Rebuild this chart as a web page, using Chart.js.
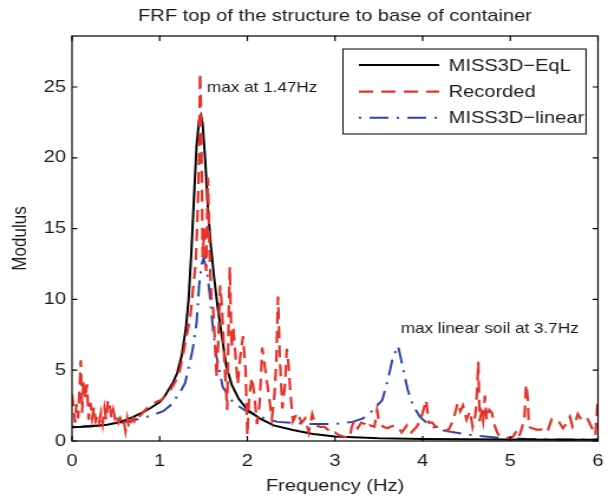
<!DOCTYPE html>
<html>
<head>
<meta charset="utf-8">
<title>FRF top of the structure to base of container</title>
<script src="https://cdn.jsdelivr.net/npm/chart.js@4.4.0/dist/chart.umd.min.js"></script>
<style>
  body { margin: 0; background: #fff; }
  #frf_chart { width: 608px; height: 502px; }
</style>
</head>
<body>
<canvas id="frf_chart" width="515" height="502" style="width:608px;height:502px"></canvas>
<script>
// MISS3D-EqL (black)
var eqlFreq = [0, 0.2, 0.4, 0.5, 0.6, 0.7, 0.8, 0.9, 1.0, 1.05, 1.1, 1.15, 1.2, 1.25, 1.3, 1.33, 1.36, 1.39,
               1.42, 1.45, 1.47, 1.49, 1.52, 1.55, 1.58, 1.62, 1.66, 1.70, 1.76, 1.82, 1.90, 2.00, 2.14, 2.30,
               2.52, 2.75, 3.0, 3.5, 4.0, 5.0, 6.0];
var eqlMod  = [0.97, 1.02, 1.15, 1.27, 1.45, 1.7, 2.0, 2.35, 2.75, 3.1, 3.6, 4.1, 4.8, 6.0, 8.0, 10.0, 13.2, 17.0,
               20.8, 22.7, 23.0, 22.4, 19.8, 16.5, 14.0, 11.6, 9.5, 7.8, 5.3, 4.0, 3.0, 2.2, 1.6, 1.1,
               0.78, 0.5, 0.32, 0.2, 0.15, 0.1, 0.08];

// Recorded (red dashed)
var recFreq = [0.00, 0.02, 0.035, 0.05, 0.07, 0.10, 0.115, 0.13, 0.15, 0.17, 0.19, 0.21, 0.23, 0.25, 0.27, 0.29,
               0.31, 0.33, 0.35, 0.37, 0.39, 0.41, 0.43, 0.45, 0.47, 0.49, 0.51, 0.53, 0.55, 0.57, 0.59, 0.61,
               0.63, 0.65, 0.67, 0.69, 0.71, 0.73, 0.75, 0.78, 0.82, 0.87, 0.92, 0.97, 1.02, 1.08, 1.13, 1.18,
               1.23, 1.27, 1.31, 1.35, 1.38, 1.41, 1.43, 1.45, 1.46, 1.47, 1.48, 1.49, 1.51, 1.53, 1.55, 1.57,
               1.59, 1.61, 1.63, 1.65, 1.67, 1.69, 1.71, 1.74, 1.77, 1.79, 1.80, 1.82, 1.84, 1.86, 1.89, 1.92,
               1.95, 1.98, 2.00, 2.02, 2.05, 2.08, 2.11, 2.14, 2.17, 2.21, 2.25, 2.28, 2.31, 2.33, 2.35, 2.37,
               2.40, 2.43, 2.45, 2.47, 2.49, 2.52, 2.57, 2.62, 2.66, 2.70, 2.74, 2.78, 2.83, 2.88, 2.92, 2.96,
               3.00, 3.05, 3.10, 3.17, 3.19, 3.22, 3.26, 3.30, 3.34, 3.37, 3.40, 3.45, 3.48, 3.50, 3.55, 3.60,
               3.63, 3.68, 3.72, 3.76, 3.82, 3.87, 3.93, 3.97, 4.00, 4.04, 4.07, 4.11, 4.15, 4.20, 4.25, 4.29,
               4.35, 4.40, 4.43, 4.46, 4.50, 4.54, 4.57, 4.60, 4.62, 4.635, 4.65, 4.67, 4.69, 4.71, 4.73, 4.76,
               4.79, 4.81, 4.85, 4.88, 4.95, 5.03, 5.07, 5.10, 5.16, 5.18, 5.20, 5.21, 5.25, 5.30, 5.36, 5.42,
               5.47, 5.52, 5.56, 5.60, 5.64, 5.68, 5.71, 5.74, 5.77, 5.80, 5.84, 5.87, 5.91, 5.97, 5.995];
var recMod  = [3.3, 2.2, 1.3, 2.6, 1.6, 5.7, 2.0, 4.3, 3.0, 4.0, 1.5, 2.7, 1.6, 2.4, 1.4, 1.8,
               1.3, 2.0, 1.2, 2.3, 1.5, 2.9, 2.5, 1.6, 2.2, 1.6, 1.9, 1.3, 1.6, 1.2, 1.4, 0.7,
               1.6, 0.9, 1.3, 1.6, 1.4, 1.7, 1.5, 1.8, 2.1, 2.4, 2.6, 2.8, 2.9, 3.3, 3.7, 4.2,
               5.0, 6.2, 7.5, 8.8, 10.7, 12.5, 15.5, 20.0, 26.0, 23.8, 19.0, 13.0, 15.0, 12.0, 18.6, 13.0,
               10.0, 9.3, 7.0, 4.5, 7.3, 11.0, 9.5, 5.5, 2.2, 9.8, 12.3, 6.6, 8.0, 6.4, 4.0, 6.0,
               7.4, 5.0, 0.4, 3.0, 4.5, 3.3, 1.2, 2.6, 6.6, 4.8, 3.0, 1.6, 3.3, 5.6, 10.2, 5.9,
               2.3, 4.0, 6.5, 5.4, 3.5, 1.4, 2.0, 1.3, 1.6, 0.6, 1.9, 1.1, 1.0, 1.0, 0.8, 0.5,
               0.6, 0.4, 0.3, 0.2, 1.0, 1.4, 0.9, 1.3, 1.2, 0.9, 1.1, 1.0, 2.2, 1.4, 1.0, 0.9,
               1.0, 1.1, 1.0, 0.6, 1.1, 0.6, 1.0, 1.4, 2.0, 2.9, 1.3, 1.3, 1.0, 1.0, 0.9, 0.7,
               1.5, 2.7, 2.1, 2.5, 1.5, 2.1, 1.0, 1.8, 3.5, 5.6, 1.4, 2.0, 1.4, 3.2, 1.5, 2.2,
               2.0, 1.3, 0.6, 0.3, 0.2, 0.3, 0.7, 0.3, 1.5, 4.0, 3.0, 1.0, 0.9, 0.8, 0.8, 0.6,
               1.5, 1.2, 1.3, 0.9, 1.2, 1.7, 1.0, 1.3, 1.9, 1.6, 1.5, 1.7, 1.2, 0.4, 2.7];

// MISS3D-linear (blue dash-dot)
var linFreq = [0, 0.3, 0.62, 0.8, 0.95, 1.04, 1.12, 1.23, 1.29, 1.35, 1.38, 1.42, 1.45, 1.48, 1.50, 1.54,
               1.57, 1.61, 1.65, 1.72, 1.84, 1.99, 2.15, 2.34, 2.71, 3.0, 3.06, 3.2, 3.32, 3.44, 3.54, 3.61,
               3.66, 3.72, 3.78, 3.83, 3.89, 3.97, 4.08, 4.2, 4.46, 4.65, 4.92, 5.2, 5.55, 6.0];
var linMod  = [1.0, 1.1, 1.35, 1.6, 1.9, 2.1, 2.5, 3.4, 4.1, 5.7, 6.6, 8.3, 11.0, 12.5, 12.9, 12.0,
               10.4, 7.8, 5.9, 3.8, 2.7, 2.1, 1.7, 1.35, 1.2, 1.2, 1.25, 1.35, 1.6, 2.2, 2.9, 4.5,
               5.9, 6.7, 5.0, 3.6, 2.5, 1.7, 1.1, 0.78, 0.5, 0.35, 0.2, 0.15, 0.1, 0.1];

var xTicks = [0, 1, 2, 3, 4, 5, 6];
var yTicks = [0, 5, 10, 15, 20, 25];

var chartTitle = "FRF top of the structure to base of container";
var notes = [
    {text: "max at 1.47Hz", x: 1.54, y: 24.65},
    {text: "max linear soil at 3.7Hz", x: 3.75, y: 7.6}
];

var fontFamily = "'Liberation Sans', Arial, Helvetica, sans-serif";
Chart.defaults.font.family = fontFamily;
Chart.defaults.color = "#1a1a1a";

function to_points(xs, ys){
    return xs.map(function(x, i){ return {x: x, y: ys[i]}; });
}

// box, inward ticks, title, notes and legend drawn like the matlab figure
var frame_plugin = {
    id: "frame",
    afterDatasetsDraw: function(chart){
        var ctx = chart.ctx;
        var area = chart.chartArea;
        var xs = chart.scales.x;
        var ys = chart.scales.y;
        ctx.save();

        ctx.strokeStyle = "#000";
        ctx.lineWidth = 1.2;
        ctx.strokeRect(area.left, area.top, area.right - area.left, area.bottom - area.top);
        ctx.beginPath();
        xTicks.forEach(function(v){
            var px = xs.getPixelForValue(v);
            ctx.moveTo(px, area.bottom); ctx.lineTo(px, area.bottom - 5);
            ctx.moveTo(px, area.top); ctx.lineTo(px, area.top + 5);
        });
        yTicks.forEach(function(v){
            var py = ys.getPixelForValue(v);
            ctx.moveTo(area.left, py); ctx.lineTo(area.left + 4.5, py);
            ctx.moveTo(area.right, py); ctx.lineTo(area.right - 4.5, py);
        });
        ctx.stroke();

        // title
        ctx.fillStyle = "#1a1a1a";
        ctx.font = "17px " + fontFamily;
        ctx.textAlign = "center";
        ctx.textBaseline = "alphabetic";
        ctx.fillText(chartTitle, (area.left + area.right) / 2, 21);

        // notes
        ctx.font = "14.5px " + fontFamily;
        ctx.textAlign = "left";
        notes.forEach(function(n){
            ctx.fillText(n.text, xs.getPixelForValue(n.x), ys.getPixelForValue(n.y));
        });

        // legend
        var box = {left: 290.5, top: 49, right: 496.4, bottom: 134};
        ctx.fillStyle = "#fff";
        ctx.fillRect(box.left, box.top, box.right - box.left, box.bottom - box.top);
        ctx.strokeStyle = "#000";
        ctx.lineWidth = 1;
        ctx.strokeRect(box.left, box.top, box.right - box.left, box.bottom - box.top);
        var rows = [65, 91.7, 117.7];
        ctx.font = "17px " + fontFamily;
        ctx.textBaseline = "middle";
        chart.data.datasets.forEach(function(ds, i){
            ctx.beginPath();
            ctx.strokeStyle = ds.borderColor;
            ctx.lineWidth = ds.borderWidth;
            ctx.setLineDash(ds.borderDash || []);
            ctx.moveTo(304, rows[i]);
            ctx.lineTo(372, rows[i]);
            ctx.stroke();
            ctx.setLineDash([]);
            ctx.fillStyle = "#1a1a1a";
            ctx.fillText(ds.label, 380, rows[i] + 1);
        });

        ctx.restore();
    }
};

new Chart(document.getElementById("frf_chart"), {
    type: "line",
    data: {
        datasets: [{
            label: "MISS3D\u2212EqL",
            data: to_points(eqlFreq, eqlMod),
            borderColor: "#000000",
            borderWidth: 2,
            order: 1
        }, {
            label: "Recorded",
            data: to_points(recFreq, recMod),
            borderColor: "#e5322a",
            borderWidth: 2.2,
            borderDash: [12, 7],
            order: 0
        }, {
            label: "MISS3D\u2212linear",
            data: to_points(linFreq, linMod),
            borderColor: "#2a44ad",
            borderWidth: 2,
            borderDash: [2, 7, 16, 7],
            order: 2
        }]
    },
    options: {
        responsive: false,
        devicePixelRatio: 1,
        animation: false,
        layout: {
            padding: {left: 0, right: 8.5, top: 36, bottom: 0}
        },
        elements: {
            point: { radius: 0 },
            line: { tension: 0, fill: false }
        },
        scales: {
            x: {
                type: "linear",
                min: 0,
                max: 6,
                grid: { display: false, drawTicks: false },
                border: { display: false },
                ticks: {
                    stepSize: 1,
                    padding: 10,
                    maxRotation: 0,
                    font: { size: 17 }
                },
                title: {
                    display: true,
                    text: "Frequency (Hz)",
                    font: { size: 17 },
                    padding: { top: 0, bottom: 5 }
                },
                afterFit: function(scale){
                    scale.height = 61;
                    scale.paddingLeft = 0;
                    scale.paddingRight = 0;
                }
            },
            y: {
                type: "linear",
                min: 0,
                max: 28.6,
                grid: { display: false, drawTicks: false },
                border: { display: false },
                ticks: {
                    stepSize: 5,
                    includeBounds: false,
                    padding: 5,
                    font: { size: 17 }
                },
                title: {
                    display: true,
                    text: "Modulus",
                    font: { size: 17 },
                    padding: { top: 7, bottom: 0 }
                },
                afterFit: function(scale){
                    scale.width = 61;
                    scale.paddingTop = 0;
                    scale.paddingBottom = 0;
                }
            }
        },
        plugins: {
            legend: { display: false },
            title: { display: false },
            tooltip: { enabled: false }
        }
    },
    plugins: [frame_plugin]
});
</script>
</body>
</html>
